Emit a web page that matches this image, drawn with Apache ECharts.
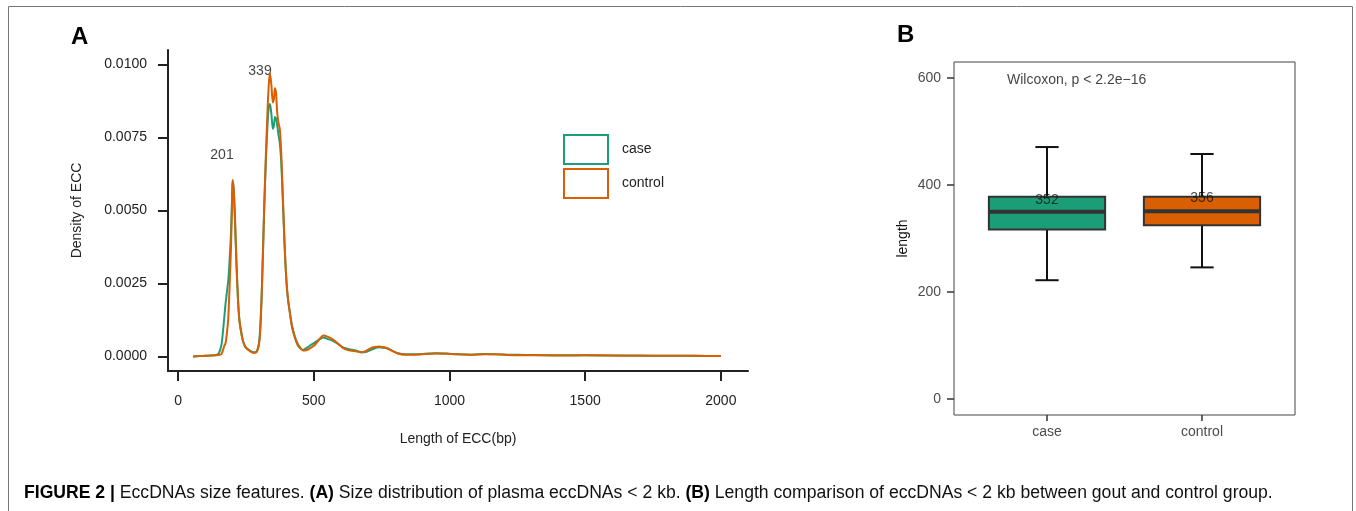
<!DOCTYPE html>
<html><head><meta charset="utf-8">
<script src="https://cdn.jsdelivr.net/npm/echarts@6/dist/echarts.min.js"></script>
<style>html,body{margin:0;padding:0;background:#fff}#c{width:1356px;height:511px}</style>
</head><body><div id="c"></div>
<script>
// ---- Panel A: density of eccDNA length ----
const lengthBp = [55,80,100,120,140,150,160,165,170,175,180,185,190,195,199,201,203,206,210,215,221,226,232,240,250,265,280,290,298,303,308,313,318,324,330,335,339,344,349,353,357,361,365,370,375,380,385,390,395,400,405,412,420,430,440,450,460,475,490,505,520,535,550,567,585,600,615,634,655,677,695,710,725,740,755,770,790,810,836,870,910,950,990,1030,1080,1130,1170,1220,1280,1350,1420,1500,1600,1700,1800,1900,2000];
const caseDensity = [0.00000,0.00001,0.00002,0.00003,0.00005,0.00010,0.00040,0.00080,0.00130,0.00180,0.00220,0.00260,0.00330,0.00420,0.00540,0.00595,0.00600,0.00550,0.00460,0.00320,0.00190,0.00125,0.00085,0.00050,0.00030,0.00020,0.00014,0.00018,0.00045,0.00100,0.00210,0.00360,0.00520,0.00680,0.00800,0.00860,0.00865,0.00830,0.00780,0.00790,0.00820,0.00815,0.00795,0.00760,0.00730,0.00670,0.00560,0.00440,0.00330,0.00250,0.00195,0.00150,0.00105,0.00070,0.00045,0.00030,0.00022,0.00030,0.00040,0.00048,0.00058,0.00065,0.00060,0.00055,0.00045,0.00035,0.00028,0.00024,0.00020,0.00014,0.00016,0.00022,0.00028,0.00031,0.00030,0.00028,0.00019,0.00011,0.00007,0.00007,0.00009,0.00011,0.00010,0.00007,0.00006,0.00008,0.00007,0.00006,0.00005,0.00004,0.00004,0.00004,0.00003,0.00003,0.00002,0.00002,0.00001];
const controlDensity = [0.00000,0.00001,0.00002,0.00003,0.00004,0.00005,0.00008,0.00020,0.00035,0.00045,0.00080,0.00130,0.00240,0.00370,0.00530,0.00605,0.00605,0.00560,0.00470,0.00330,0.00195,0.00125,0.00088,0.00050,0.00030,0.00018,0.00012,0.00015,0.00040,0.00090,0.00200,0.00360,0.00530,0.00700,0.00850,0.00940,0.00970,0.00930,0.00870,0.00880,0.00920,0.00905,0.00840,0.00800,0.00780,0.00700,0.00580,0.00450,0.00330,0.00250,0.00200,0.00150,0.00100,0.00065,0.00040,0.00028,0.00020,0.00022,0.00030,0.00040,0.00058,0.00072,0.00068,0.00060,0.00048,0.00035,0.00025,0.00020,0.00018,0.00014,0.00020,0.00028,0.00032,0.00034,0.00032,0.00028,0.00018,0.00010,0.00006,0.00006,0.00008,0.00010,0.00009,0.00007,0.00006,0.00007,0.00007,0.00005,0.00004,0.00004,0.00003,0.00004,0.00003,0.00002,0.00002,0.00002,0.00001];
const peakLabels = ['201','339'];
const peakLabelX = [162, 302];
const peakLabelY = [0.0069, 0.00976];
const xTicksA = [0,500,1000,1500,2000];
const yTicksA = [0,0.0025,0.005,0.0075,0.01];

// ---- Panel B: boxplot of length ----
const groups = ['case','control'];
const boxMin = [222, 246];
const boxQ1 = [317, 325];
const boxMedian = [350, 351];
const boxQ3 = [378, 378];
const boxMax = [471, 458];
const medianText = ['352','356'];
const medianTextY = [372, 376];
const yTicksB = [0,200,400,600];
const testLabel = 'Wilcoxon, p < 2.2e\u221216';

const GREEN = '#1b9e77', ORANGE = '#d95f02';
const FONT = 'Liberation Sans, Arial, Helvetica, sans-serif';

const chart = echarts.init(document.getElementById('c'), null, {renderer:'canvas'});

const caseLine = lengthBp.map((x,i)=>[x, caseDensity[i]]);
const ctrlLine = lengthBp.map((x,i)=>[x, controlDensity[i]]);
const boxData = groups.map((g,i)=>[i+1, boxMin[i], boxQ1[i], boxMedian[i], boxQ3[i], boxMax[i]]);

function renderBox(params, api){
  const x = api.value(0);
  const pMin = api.coord([x, api.value(1)]);
  const pQ1 = api.coord([x, api.value(2)]);
  const pMd = api.coord([x, api.value(3)]);
  const pQ3 = api.coord([x, api.value(4)]);
  const pMax = api.coord([x, api.value(5)]);
  const bw = api.size([0.75, 0])[0];
  const cw = api.size([0.15, 0])[0];
  const fill = params.dataIndex === 0 ? GREEN : ORANGE;
  return {type:'group', children:[
    {type:'line', shape:{x1:pMin[0], y1:pMin[1], x2:pMax[0], y2:pMax[1]}, style:{stroke:'#111', lineWidth:2}},
    {type:'line', shape:{x1:pMax[0]-cw/2, y1:pMax[1], x2:pMax[0]+cw/2, y2:pMax[1]}, style:{stroke:'#111', lineWidth:2}},
    {type:'line', shape:{x1:pMin[0]-cw/2, y1:pMin[1], x2:pMin[0]+cw/2, y2:pMin[1]}, style:{stroke:'#111', lineWidth:2}},
    {type:'rect', shape:{x:pQ3[0]-bw/2, y:pQ3[1], width:bw, height:pQ1[1]-pQ3[1]}, style:{fill:fill, stroke:'#333', lineWidth:2}},
    {type:'line', shape:{x1:pMd[0]-bw/2, y1:pMd[1], x2:pMd[0]+bw/2, y2:pMd[1]}, style:{stroke:'#333', lineWidth:4}}
  ]};
}

const option = {
  animation:false,
  backgroundColor:'#fff',
  textStyle:{fontFamily:FONT},
  title:[
    {text:'A', left:66, top:20, textStyle:{fontSize:24, fontWeight:'bold', color:'#000', fontFamily:FONT}},
    {text:'B', left:892, top:18, textStyle:{fontSize:24, fontWeight:'bold', color:'#000', fontFamily:FONT}},
    {text:'{b|FIGURE 2}{s| | }{n|EccDNAs size features. }{b|(A)}{n| Size distribution of plasma eccDNAs < 2 kb. }{b|(B)}{n| Length comparison of eccDNAs < 2 kb between gout and control group.}',
     left:24, top:484, padding:0,
     textStyle:{fontFamily:FONT, fontWeight:'normal', rich:{
       b:{fontSize:17.6, fontWeight:'bold', color:'#000', fontFamily:FONT},
       s:{fontSize:17.6, fontWeight:'bold', color:'#000', fontFamily:FONT},
       n:{fontSize:17.6, fontWeight:'normal', color:'#111', fontFamily:FONT}
     }}}
  ],
  graphic:[
    {type:'rect', shape:{x:8.5, y:6.5, width:1344, height:520}, style:{fill:'none', stroke:'#777', lineWidth:1}, silent:true, z:-1}
  ],
  legend:{
    orient:'vertical', left:563, top:134, padding:0, itemWidth:44, itemHeight:29, itemGap:3,
    textStyle:{fontSize:14, color:'#222', fontFamily:FONT, padding:[3,0,0,9]},
    data:[
      {name:'case', icon:'rect', itemStyle:{color:'#fff', borderColor:GREEN, borderWidth:2}},
      {name:'control', icon:'rect', itemStyle:{color:'#fff', borderColor:ORANGE, borderWidth:2}}
    ]
  },
  grid:[
    {left:168, top:50, width:580, height:321, containLabel:false},
    {left:954, top:62, width:341, height:353, show:true, borderColor:'#444', borderWidth:1, backgroundColor:'transparent'}
  ],
  xAxis:[
    {type:'value', gridIndex:0, min:-37, max:2100,
     name:'Length of ECC(bp)', nameLocation:'middle', nameGap:61,
     nameTextStyle:{fontSize:14, color:'#222', fontFamily:FONT},
     axisLine:{show:true, onZero:false, lineStyle:{color:'#222', width:2}},
     axisTick:{show:true, length:10, customValues:xTicksA, lineStyle:{color:'#222', width:2}},
     axisLabel:{customValues:xTicksA, fontSize:14, color:'#222', margin:23, fontFamily:FONT,
       formatter:(v)=>String(v)},
     splitLine:{show:false}},
    {type:'value', gridIndex:1, min:0.4, max:2.6,
     axisLine:{show:false, onZero:false},
     axisTick:{show:true, length:6, customValues:[1,2], lineStyle:{color:'#333', width:1.5}},
     axisLabel:{customValues:[1,2], fontSize:14, color:'#4d4d4d', margin:10, fontFamily:FONT,
       formatter:(v)=>groups[Math.round(v)-1]},
     splitLine:{show:false}}
  ],
  yAxis:[
    {type:'value', gridIndex:0, min:-0.0005, max:0.0105,
     name:'Density of ECC', nameLocation:'middle', nameGap:84,
     nameTextStyle:{fontSize:14, color:'#222', fontFamily:FONT},
     axisLine:{show:true, onZero:false, lineStyle:{color:'#222', width:2}},
     axisTick:{show:true, length:10, customValues:yTicksA, lineStyle:{color:'#222', width:2}},
     axisLabel:{customValues:yTicksA, fontSize:14, color:'#222', margin:21, fontFamily:FONT,
       formatter:(v)=>v.toFixed(4)},
     splitLine:{show:false}},
    {type:'value', gridIndex:1, min:-30, max:630,
     name:'length', nameLocation:'middle', nameGap:44,
     nameTextStyle:{fontSize:14, color:'#111', fontFamily:FONT},
     axisLine:{show:false, onZero:false},
     axisTick:{show:true, length:7, customValues:yTicksB, lineStyle:{color:'#333', width:1.5}},
     axisLabel:{customValues:yTicksB, fontSize:14, color:'#4d4d4d', margin:13, fontFamily:FONT},
     splitLine:{show:false}}
  ],
  series:[
    {name:'case', type:'line', xAxisIndex:0, yAxisIndex:0, data:caseLine, showSymbol:false, symbol:'none',
     lineStyle:{color:GREEN, width:2}, itemStyle:{color:GREEN}, smooth:0.2},
    {name:'control', type:'line', xAxisIndex:0, yAxisIndex:0, data:ctrlLine, showSymbol:false, symbol:'none',
     lineStyle:{color:ORANGE, width:2}, itemStyle:{color:ORANGE}, smooth:0.2},
    {name:'peaks', type:'scatter', xAxisIndex:0, yAxisIndex:0, symbolSize:0,
     data:peakLabelX.map((x,i)=>[x, peakLabelY[i]]),
     label:{show:true, position:'inside', fontSize:14, color:'#111', fontFamily:FONT,
       formatter:(p)=>peakLabels[p.dataIndex]}},
    {name:'box', type:'custom', xAxisIndex:1, yAxisIndex:1, data:boxData, renderItem:renderBox,
     encode:{x:0, y:[1,2,3,4,5]}},
    {name:'medianText', type:'scatter', xAxisIndex:1, yAxisIndex:1, symbolSize:0, z:10,
     data:groups.map((g,i)=>[i+1, medianTextY[i]]),
     label:{show:true, position:'inside', fontSize:14, color:'#111', fontFamily:FONT,
       formatter:(p)=>medianText[p.dataIndex]}},
    {name:'test', type:'scatter', xAxisIndex:1, yAxisIndex:1, symbolSize:0,
     data:[[0.742, 596]],
     label:{show:true, position:'right', distance:0, fontSize:14, color:'#111', fontFamily:FONT,
       formatter:()=>testLabel}}
  ]
};
chart.setOption(option);
</script></body></html>
